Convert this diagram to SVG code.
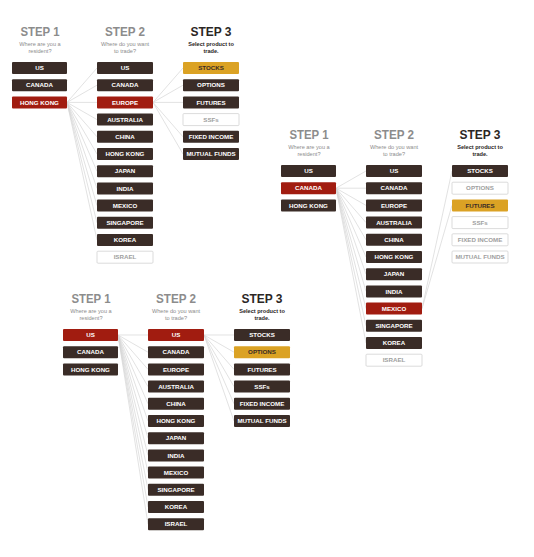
<svg xmlns="http://www.w3.org/2000/svg" width="534" height="557" viewBox="0 0 534 557">
<style>
.bg{fill:#ffffff}
.h{font-family:"Liberation Sans",Arial,sans-serif;font-weight:bold;font-size:12.8px;text-anchor:middle;fill:#8c8c8c}
.h3{fill:#2b2624}
.sub{font-family:"Liberation Sans",Arial,sans-serif;font-size:5.6px;text-anchor:middle;fill:#8c8c8c}
.sub3{font-weight:bold;fill:#2b2624}
.n text{font-family:"Liberation Sans",Arial,sans-serif;font-weight:bold;font-size:6.2px;text-anchor:middle;fill:#ffffff}
.dk use{fill:#3a2c27}
.rd use{fill:#a11c10}
.gd use{fill:#dba224}
.gd text{fill:#3a2c27}
.off use{fill:#ffffff;stroke:#d2d2d2;stroke-width:0.8}
.off text{fill:#a0a0a0}
.c line{stroke:#d6d6d6;stroke-width:0.7}
</style>
<defs>
<rect id="b55" width="55" height="12" rx="1"/>
<rect id="b56" width="56" height="12" rx="1"/>
</defs>
<rect class="bg" width="534" height="557"/>

<!-- connectors -->
<g id="connectors" class="c">
  <g transform="translate(0,0)">
    <line x1="67" y1="102.4" x2="97" y2="68"/>
    <line x1="67" y1="102.4" x2="97" y2="85.2"/>
    <line x1="67" y1="102.4" x2="97" y2="102.4"/>
    <line x1="67" y1="102.4" x2="97" y2="119.6"/>
    <line x1="67" y1="102.4" x2="97" y2="136.8"/>
    <line x1="67" y1="102.4" x2="97" y2="154"/>
    <line x1="67" y1="102.4" x2="97" y2="171.2"/>
    <line x1="67" y1="102.4" x2="97" y2="188.4"/>
    <line x1="67" y1="102.4" x2="97" y2="205.6"/>
    <line x1="67" y1="102.4" x2="97" y2="222.8"/>
    <line x1="67" y1="102.4" x2="97" y2="240"/>
    <line x1="153" y1="102.4" x2="183" y2="68"/>
    <line x1="153" y1="102.4" x2="183" y2="85.2"/>
    <line x1="153" y1="102.4" x2="183" y2="102.4"/>
    <line x1="153" y1="102.4" x2="183" y2="136.8"/>
    <line x1="153" y1="102.4" x2="183" y2="154"/>
  </g>
  <g transform="translate(269,103)">
    <line x1="67" y1="85.2" x2="97" y2="68"/>
    <line x1="67" y1="85.2" x2="97" y2="85.2"/>
    <line x1="67" y1="85.2" x2="97" y2="102.4"/>
    <line x1="67" y1="85.2" x2="97" y2="119.6"/>
    <line x1="67" y1="85.2" x2="97" y2="136.8"/>
    <line x1="67" y1="85.2" x2="97" y2="154"/>
    <line x1="67" y1="85.2" x2="97" y2="171.2"/>
    <line x1="67" y1="85.2" x2="97" y2="188.4"/>
    <line x1="67" y1="85.2" x2="97" y2="205.6"/>
    <line x1="67" y1="85.2" x2="97" y2="222.8"/>
    <line x1="67" y1="85.2" x2="97" y2="240"/>
    <line x1="153" y1="205.6" x2="183" y2="68"/>
    <line x1="153" y1="205.6" x2="183" y2="102.4"/>
  </g>
  <g transform="translate(51,267)">
    <line x1="67" y1="68" x2="97" y2="68"/>
    <line x1="67" y1="68" x2="97" y2="85.2"/>
    <line x1="67" y1="68" x2="97" y2="102.4"/>
    <line x1="67" y1="68" x2="97" y2="119.6"/>
    <line x1="67" y1="68" x2="97" y2="136.8"/>
    <line x1="67" y1="68" x2="97" y2="154"/>
    <line x1="67" y1="68" x2="97" y2="171.2"/>
    <line x1="67" y1="68" x2="97" y2="188.4"/>
    <line x1="67" y1="68" x2="97" y2="205.6"/>
    <line x1="67" y1="68" x2="97" y2="222.8"/>
    <line x1="67" y1="68" x2="97" y2="240"/>
    <line x1="67" y1="68" x2="97" y2="257.2"/>
    <line x1="153" y1="68" x2="183" y2="68"/>
    <line x1="153" y1="68" x2="183" y2="85.2"/>
    <line x1="153" y1="68" x2="183" y2="102.4"/>
    <line x1="153" y1="68" x2="183" y2="119.6"/>
    <line x1="153" y1="68" x2="183" y2="136.8"/>
    <line x1="153" y1="68" x2="183" y2="154"/>
  </g>
</g>

<!-- Panel 1 -->
<g id="panel1">
  <text class="h" x="40" y="36" textLength="39" lengthAdjust="spacingAndGlyphs">STEP 1</text>
  <text class="sub" x="40" y="46">Where are you a</text>
  <text class="sub" x="40" y="53">resident?</text>
  <text class="h" x="125" y="36" textLength="40" lengthAdjust="spacingAndGlyphs">STEP 2</text>
  <text class="sub" x="125" y="46">Where do you want</text>
  <text class="sub" x="125" y="53">to trade?</text>
  <text class="h h3" x="211" y="36" textLength="41" lengthAdjust="spacingAndGlyphs">STEP 3</text>
  <text class="sub sub3" x="211" y="46">Select product to</text>
  <text class="sub sub3" x="211" y="53">trade.</text>

  <g id="p1-r-us" class="n dk" transform="translate(12,62)"><use href="#b55"/><text x="27.5" y="8.2">US</text></g>
  <g id="p1-r-canada" class="n dk" transform="translate(12,79.2)"><use href="#b55"/><text x="27.5" y="8.2">CANADA</text></g>
  <g id="p1-r-hongkong" class="n rd" transform="translate(12,96.4)"><use href="#b55"/><text x="27.5" y="8.2">HONG KONG</text></g>

  <g id="p1-t-us" class="n dk" transform="translate(97,62)"><use href="#b56"/><text x="28" y="8.2">US</text></g>
  <g id="p1-t-canada" class="n dk" transform="translate(97,79.2)"><use href="#b56"/><text x="28" y="8.2">CANADA</text></g>
  <g id="p1-t-europe" class="n rd" transform="translate(97,96.4)"><use href="#b56"/><text x="28" y="8.2">EUROPE</text></g>
  <g id="p1-t-australia" class="n dk" transform="translate(97,113.6)"><use href="#b56"/><text x="28" y="8.2">AUSTRALIA</text></g>
  <g id="p1-t-china" class="n dk" transform="translate(97,130.8)"><use href="#b56"/><text x="28" y="8.2">CHINA</text></g>
  <g id="p1-t-hongkong" class="n dk" transform="translate(97,148)"><use href="#b56"/><text x="28" y="8.2">HONG KONG</text></g>
  <g id="p1-t-japan" class="n dk" transform="translate(97,165.2)"><use href="#b56"/><text x="28" y="8.2">JAPAN</text></g>
  <g id="p1-t-india" class="n dk" transform="translate(97,182.4)"><use href="#b56"/><text x="28" y="8.2">INDIA</text></g>
  <g id="p1-t-mexico" class="n dk" transform="translate(97,199.6)"><use href="#b56"/><text x="28" y="8.2">MEXICO</text></g>
  <g id="p1-t-singapore" class="n dk" transform="translate(97,216.8)"><use href="#b56"/><text x="28" y="8.2">SINGAPORE</text></g>
  <g id="p1-t-korea" class="n dk" transform="translate(97,234)"><use href="#b56"/><text x="28" y="8.2">KOREA</text></g>
  <g id="p1-t-israel" class="n off" transform="translate(97,251.2)"><use href="#b56"/><text x="28" y="8.2">ISRAEL</text></g>

  <g id="p1-p-stocks" class="n gd" transform="translate(183,62)"><use href="#b56"/><text x="28" y="8.2">STOCKS</text></g>
  <g id="p1-p-options" class="n dk" transform="translate(183,79.2)"><use href="#b56"/><text x="28" y="8.2">OPTIONS</text></g>
  <g id="p1-p-futures" class="n dk" transform="translate(183,96.4)"><use href="#b56"/><text x="28" y="8.2">FUTURES</text></g>
  <g id="p1-p-ssfs" class="n off" transform="translate(183,113.6)"><use href="#b56"/><text x="28" y="8.2">SSFs</text></g>
  <g id="p1-p-fixed" class="n dk" transform="translate(183,130.8)"><use href="#b56"/><text x="28" y="8.2">FIXED INCOME</text></g>
  <g id="p1-p-mutual" class="n dk" transform="translate(183,148)"><use href="#b56"/><text x="28" y="8.2">MUTUAL FUNDS</text></g>
</g>

<!-- Panel 2 -->
<g id="panel2" transform="translate(269,103)">
  <text class="h" x="40" y="36" textLength="39" lengthAdjust="spacingAndGlyphs">STEP 1</text>
  <text class="sub" x="40" y="46">Where are you a</text>
  <text class="sub" x="40" y="53">resident?</text>
  <text class="h" x="125" y="36" textLength="40" lengthAdjust="spacingAndGlyphs">STEP 2</text>
  <text class="sub" x="125" y="46">Where do you want</text>
  <text class="sub" x="125" y="53">to trade?</text>
  <text class="h h3" x="211" y="36" textLength="41" lengthAdjust="spacingAndGlyphs">STEP 3</text>
  <text class="sub sub3" x="211" y="46">Select product to</text>
  <text class="sub sub3" x="211" y="53">trade.</text>

  <g id="p2-r-us" class="n dk" transform="translate(12,62)"><use href="#b55"/><text x="27.5" y="8.2">US</text></g>
  <g id="p2-r-canada" class="n rd" transform="translate(12,79.2)"><use href="#b55"/><text x="27.5" y="8.2">CANADA</text></g>
  <g id="p2-r-hongkong" class="n dk" transform="translate(12,96.4)"><use href="#b55"/><text x="27.5" y="8.2">HONG KONG</text></g>

  <g id="p2-t-us" class="n dk" transform="translate(97,62)"><use href="#b56"/><text x="28" y="8.2">US</text></g>
  <g id="p2-t-canada" class="n dk" transform="translate(97,79.2)"><use href="#b56"/><text x="28" y="8.2">CANADA</text></g>
  <g id="p2-t-europe" class="n dk" transform="translate(97,96.4)"><use href="#b56"/><text x="28" y="8.2">EUROPE</text></g>
  <g id="p2-t-australia" class="n dk" transform="translate(97,113.6)"><use href="#b56"/><text x="28" y="8.2">AUSTRALIA</text></g>
  <g id="p2-t-china" class="n dk" transform="translate(97,130.8)"><use href="#b56"/><text x="28" y="8.2">CHINA</text></g>
  <g id="p2-t-hongkong" class="n dk" transform="translate(97,148)"><use href="#b56"/><text x="28" y="8.2">HONG KONG</text></g>
  <g id="p2-t-japan" class="n dk" transform="translate(97,165.2)"><use href="#b56"/><text x="28" y="8.2">JAPAN</text></g>
  <g id="p2-t-india" class="n dk" transform="translate(97,182.4)"><use href="#b56"/><text x="28" y="8.2">INDIA</text></g>
  <g id="p2-t-mexico" class="n rd" transform="translate(97,199.6)"><use href="#b56"/><text x="28" y="8.2">MEXICO</text></g>
  <g id="p2-t-singapore" class="n dk" transform="translate(97,216.8)"><use href="#b56"/><text x="28" y="8.2">SINGAPORE</text></g>
  <g id="p2-t-korea" class="n dk" transform="translate(97,234)"><use href="#b56"/><text x="28" y="8.2">KOREA</text></g>
  <g id="p2-t-israel" class="n off" transform="translate(97,251.2)"><use href="#b56"/><text x="28" y="8.2">ISRAEL</text></g>

  <g id="p2-p-stocks" class="n dk" transform="translate(183,62)"><use href="#b56"/><text x="28" y="8.2">STOCKS</text></g>
  <g id="p2-p-options" class="n off" transform="translate(183,79.2)"><use href="#b56"/><text x="28" y="8.2">OPTIONS</text></g>
  <g id="p2-p-futures" class="n gd" transform="translate(183,96.4)"><use href="#b56"/><text x="28" y="8.2">FUTURES</text></g>
  <g id="p2-p-ssfs" class="n off" transform="translate(183,113.6)"><use href="#b56"/><text x="28" y="8.2">SSFs</text></g>
  <g id="p2-p-fixed" class="n off" transform="translate(183,130.8)"><use href="#b56"/><text x="28" y="8.2">FIXED INCOME</text></g>
  <g id="p2-p-mutual" class="n off" transform="translate(183,148)"><use href="#b56"/><text x="28" y="8.2">MUTUAL FUNDS</text></g>
</g>

<!-- Panel 3 -->
<g id="panel3" transform="translate(51,267)">
  <text class="h" x="40" y="36" textLength="39" lengthAdjust="spacingAndGlyphs">STEP 1</text>
  <text class="sub" x="40" y="46">Where are you a</text>
  <text class="sub" x="40" y="53">resident?</text>
  <text class="h" x="125" y="36" textLength="40" lengthAdjust="spacingAndGlyphs">STEP 2</text>
  <text class="sub" x="125" y="46">Where do you want</text>
  <text class="sub" x="125" y="53">to trade?</text>
  <text class="h h3" x="211" y="36" textLength="41" lengthAdjust="spacingAndGlyphs">STEP 3</text>
  <text class="sub sub3" x="211" y="46">Select product to</text>
  <text class="sub sub3" x="211" y="53">trade.</text>

  <g id="p3-r-us" class="n rd" transform="translate(12,62)"><use href="#b55"/><text x="27.5" y="8.2">US</text></g>
  <g id="p3-r-canada" class="n dk" transform="translate(12,79.2)"><use href="#b55"/><text x="27.5" y="8.2">CANADA</text></g>
  <g id="p3-r-hongkong" class="n dk" transform="translate(12,96.4)"><use href="#b55"/><text x="27.5" y="8.2">HONG KONG</text></g>

  <g id="p3-t-us" class="n rd" transform="translate(97,62)"><use href="#b56"/><text x="28" y="8.2">US</text></g>
  <g id="p3-t-canada" class="n dk" transform="translate(97,79.2)"><use href="#b56"/><text x="28" y="8.2">CANADA</text></g>
  <g id="p3-t-europe" class="n dk" transform="translate(97,96.4)"><use href="#b56"/><text x="28" y="8.2">EUROPE</text></g>
  <g id="p3-t-australia" class="n dk" transform="translate(97,113.6)"><use href="#b56"/><text x="28" y="8.2">AUSTRALIA</text></g>
  <g id="p3-t-china" class="n dk" transform="translate(97,130.8)"><use href="#b56"/><text x="28" y="8.2">CHINA</text></g>
  <g id="p3-t-hongkong" class="n dk" transform="translate(97,148)"><use href="#b56"/><text x="28" y="8.2">HONG KONG</text></g>
  <g id="p3-t-japan" class="n dk" transform="translate(97,165.2)"><use href="#b56"/><text x="28" y="8.2">JAPAN</text></g>
  <g id="p3-t-india" class="n dk" transform="translate(97,182.4)"><use href="#b56"/><text x="28" y="8.2">INDIA</text></g>
  <g id="p3-t-mexico" class="n dk" transform="translate(97,199.6)"><use href="#b56"/><text x="28" y="8.2">MEXICO</text></g>
  <g id="p3-t-singapore" class="n dk" transform="translate(97,216.8)"><use href="#b56"/><text x="28" y="8.2">SINGAPORE</text></g>
  <g id="p3-t-korea" class="n dk" transform="translate(97,234)"><use href="#b56"/><text x="28" y="8.2">KOREA</text></g>
  <g id="p3-t-israel" class="n dk" transform="translate(97,251.2)"><use href="#b56"/><text x="28" y="8.2">ISRAEL</text></g>

  <g id="p3-p-stocks" class="n dk" transform="translate(183,62)"><use href="#b56"/><text x="28" y="8.2">STOCKS</text></g>
  <g id="p3-p-options" class="n gd" transform="translate(183,79.2)"><use href="#b56"/><text x="28" y="8.2">OPTIONS</text></g>
  <g id="p3-p-futures" class="n dk" transform="translate(183,96.4)"><use href="#b56"/><text x="28" y="8.2">FUTURES</text></g>
  <g id="p3-p-ssfs" class="n dk" transform="translate(183,113.6)"><use href="#b56"/><text x="28" y="8.2">SSFs</text></g>
  <g id="p3-p-fixed" class="n dk" transform="translate(183,130.8)"><use href="#b56"/><text x="28" y="8.2">FIXED INCOME</text></g>
  <g id="p3-p-mutual" class="n dk" transform="translate(183,148)"><use href="#b56"/><text x="28" y="8.2">MUTUAL FUNDS</text></g>
</g>
</svg>
